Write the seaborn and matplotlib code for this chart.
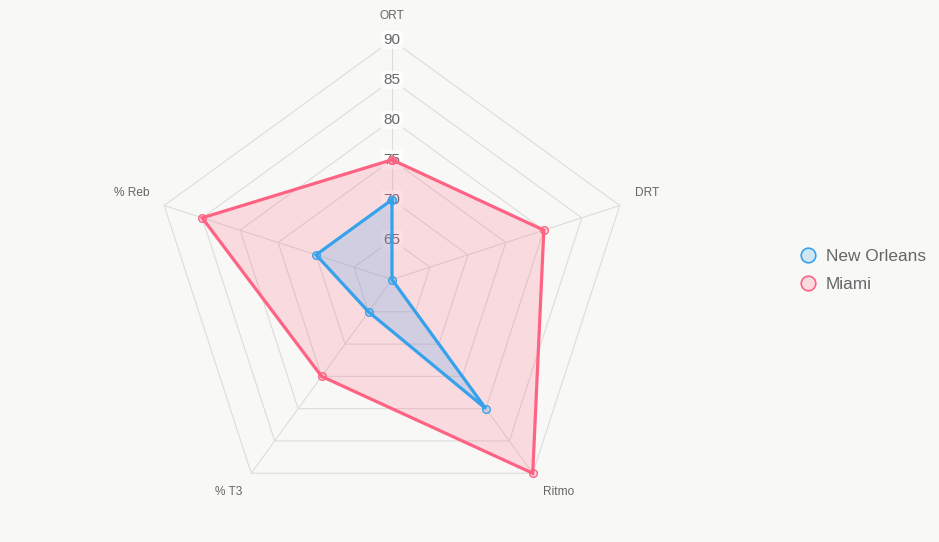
import numpy as np
import matplotlib
matplotlib.use("Agg")
import matplotlib.pyplot as plt
from matplotlib.lines import Line2D
import seaborn as sns

# ---- data ----
categories = ["ORT", "DRT", "Ritmo", "% T3", "% Reb"]
new_orleans = [70, 60, 80, 65, 70]
miami = [75, 80, 90, 75, 85]
tick_values = [65, 70, 75, 80, 85, 90]
series_names = ["New Orleans", "Miami"]
r_min, r_max = 60, 90

# ---- style ----
bg = "#f8f8f6"
blue = (54/255, 162/255, 235/255)
red = (255/255, 99/255, 132/255)
grid_c = "#dcdcdc"
text_c = "#666666"

sns.set_theme(style="white")
plt.rcParams["font.family"] = ["Liberation Sans", "DejaVu Sans"]

fig = plt.figure(figsize=(9.39, 5.42), dpi=100, facecolor=bg)
ax = fig.add_axes([0.1624, 0.0424, 0.5101, 0.8838], projection="polar")
ax.set_theta_offset(np.pi / 2)
ax.set_theta_direction(-1)
ax.set_ylim(r_min, r_max)
ax.set_facecolor("none")
ax.grid(False)
ax.spines["polar"].set_visible(False)
ax.set_xticks([])
ax.set_yticks([])

n = len(categories)
theta = np.linspace(0, 2 * np.pi, n, endpoint=False)
theta_c = np.append(theta, theta[0])

# pentagon grid
for t in tick_values:
    ax.plot(theta_c, [t] * (n + 1), color=grid_c, lw=0.8, zorder=1, clip_on=False)
# angle lines
for th in theta:
    ax.plot([th, th], [r_min, r_max], color=grid_c, lw=0.8, zorder=1, clip_on=False)

# tick labels
for t in tick_values:
    ax.text(0, t, str(t), ha="center", va="center", fontsize=11, color=text_c,
            zorder=2,
            bbox=dict(boxstyle="square,pad=0.15", fc=(1, 1, 1, 0.75), ec="none"))

# point labels
label_offsets = [((0, 24), "center"), ((15, 13), "left"), ((10, -19), "left"),
                 ((-9, -19), "right"), ((-15, 13), "right")]
for th, cat, (off, ha) in zip(theta, categories, label_offsets):
    ax.annotate(cat, xy=(th, r_max), xytext=off, textcoords="offset pixels",
                ha=ha, va="center", fontsize=8.6, color=text_c, annotation_clip=False)

# data (Miami first so New Orleans sits on top)
for vals, col, z in [(miami, red, 3), (new_orleans, blue, 4)]:
    vals_c = np.append(vals, vals[0])
    ax.fill(theta_c, vals_c, color=col, alpha=0.2, lw=0, zorder=z)
    sns.lineplot(x=theta_c, y=vals_c, sort=False, estimator=None, ax=ax,
                 color=col, lw=2.3, zorder=z + 0.5, marker="o", markersize=5.5,
                 markerfacecolor=(*col, 0.2), markeredgecolor=col,
                 markeredgewidth=1.0, clip_on=False, solid_joinstyle="miter")

# legend
handles = [Line2D([], [], ls="none", marker="o", markersize=10.5,
                  markerfacecolor=(*c, 0.2), markeredgecolor=c, markeredgewidth=1.2)
           for c in (blue, red)]
fig.legend(handles, series_names, loc="center left",
           bbox_to_anchor=(789 / 939, 1 - 270.5 / 542), frameon=False,
           fontsize=12.4, labelcolor=text_c, handletextpad=0.45,
           labelspacing=0.8, handlelength=1.2, borderpad=0)

fig.savefig("out.png", dpi=100, facecolor=bg)
